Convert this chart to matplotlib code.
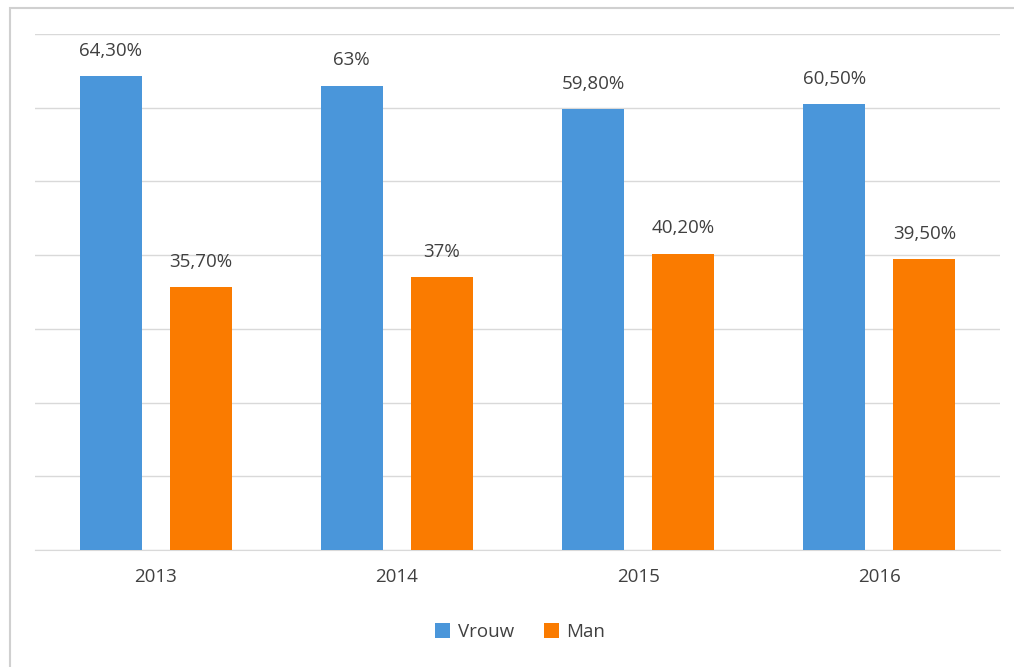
import numpy as np
import matplotlib.pyplot as plt
from matplotlib.patches import Rectangle

years = ["2013", "2014", "2015", "2016"]
vrouw = [64.3, 63.0, 59.8, 60.5]
man = [35.7, 37.0, 40.2, 39.5]
vrouw_labels = ["64,30%", "63%", "59,80%", "60,50%"]
man_labels = ["35,70%", "37%", "40,20%", "39,50%"]

blue = "#4A96DA"
orange = "#FA7B00"
txt = "#404040"

plt.rcParams['font.family'] = ['Open Sans', 'DejaVu Sans']

fig = plt.figure(figsize=(10.14, 6.67), dpi=100)
ax = fig.add_axes([35/1014, 1 - 550/667, 965/1014, 516/667])

x = np.arange(len(years))
w = 0.257
off = 0.187
b1 = ax.bar(x - off, vrouw, w, color=blue, label="Vrouw", zorder=3)
b2 = ax.bar(x + off, man, w, color=orange, label="Man", zorder=3)

# value labels above bars
for rect, lab in zip(b1, vrouw_labels):
    ax.text(rect.get_x() + rect.get_width()/2, rect.get_height() + 2.2, lab,
            ha='center', va='bottom', fontsize=13.5, color=txt)
for rect, lab in zip(b2, man_labels):
    ax.text(rect.get_x() + rect.get_width()/2, rect.get_height() + 2.2, lab,
            ha='center', va='bottom', fontsize=13.5, color=txt)

ax.set_xlim(-0.5, 3.5)
ax.set_ylim(0, 70)
ax.set_yticks(np.arange(0, 71, 10))
ax.set_yticklabels([])
ax.tick_params(axis='y', length=0)
ax.set_xticks(x)
ax.set_xticklabels(years, fontsize=13.5, color=txt)
ax.tick_params(axis='x', length=0, pad=13)
ax.grid(axis='y', color='#D9D9D9', linewidth=1, zorder=0)
for s in ['top', 'right', 'left']:
    ax.spines[s].set_visible(False)
ax.spines['bottom'].set_color('#D9D9D9')

fig.legend(handles=[b1, b2], labels=["Vrouw", "Man"], loc='center',
           bbox_to_anchor=(520/1014, 1 - 632/667), ncol=2, frameon=False,
           fontsize=13.5, handlelength=0.8, handleheight=0.8, handletextpad=0.4,
           columnspacing=1.6, labelcolor=txt)

fig.patches.append(Rectangle((10/1014, -0.1), 1.2, 1 - 8/667 + 0.1,
                             transform=fig.transFigure, fill=False,
                             edgecolor='#D0D0D0', linewidth=1.5))

fig.savefig("out.png", dpi=100)
